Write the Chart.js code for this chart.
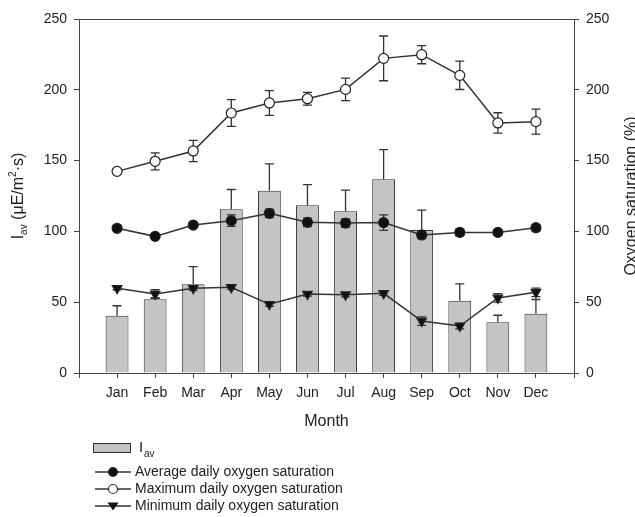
<!DOCTYPE html>
<html lang="en">
<head>
    <meta charset="UTF-8">
    <title>Light and oxygen saturation</title>
    <style>
        body { margin: 0; background: #fff; }
        canvas { display: block; }
    </style>
</head>
<body>
    <canvas id="chart" width="635" height="517"></canvas>

    <script src="https://cdn.jsdelivr.net/npm/chart.js"></script>
    <script>
        const months = ['Jan', 'Feb', 'Mar', 'Apr', 'May', 'Jun', 'Jul', 'Aug', 'Sep', 'Oct', 'Nov', 'Dec'];

        const iav = [40.5, 52, 62.6, 115.6, 128.7, 118.4, 114.2, 136.8, 101, 51, 35.8, 41.9];
        const iavErr = [7, 1, 12.5, 14, 19, 14.6, 15, 21, 14, 12, 5, 10];

        const avgSat = [102.2, 96.5, 104.5, 107.6, 112.8, 106.4, 105.9, 106.2, 97.5, 99.3, 99.3, 102.6];
        const avgErr = [2, 1.5, 1.5, 4, 3, 3, 3, 5.5, 2.5, 2.5, 1.5, 2];

        const maxSat = [142.4, 149.5, 156.8, 183.6, 190.7, 193.7, 200.3, 222.2, 224.8, 210.2, 176.6, 177.5];
        const maxErr = [2, 6, 7.5, 9.4, 8.7, 4.5, 8, 15.8, 6.4, 10, 7.2, 8.8];

        const minSat = [59.8, 55.8, 59.8, 60.5, 48.5, 55.8, 55.3, 56.3, 36.7, 33.2, 53, 57];
        const minErr = [1, 3, 1.5, 1.5, 1.5, 1.5, 1.5, 1.5, 3, 2, 3, 3];

        const yTicks = [0, 50, 100, 150, 200, 250];

        // one empty slot each side so Jan/Dec sit a full month in from the axes
        const pad = arr => [null, ...arr, null];
        const labels = ['', ...months, ''];

        const FONT = "'Liberation Sans', Arial, sans-serif";
        const INK = '#222';
        const AXIS = '#444';

        Chart.defaults.font.family = FONT;
        Chart.defaults.color = INK;

        // text with sub/superscript pieces: [text, size, shift]
        function drawPieces(ctx, pieces, cx, cy) {
            let total = 0;
            pieces.forEach(p => {
                ctx.font = p[1] + 'px ' + FONT;
                total += ctx.measureText(p[0]).width;
            });
            let x = cx - total / 2;
            pieces.forEach(p => {
                ctx.font = p[1] + 'px ' + FONT;
                ctx.fillText(p[0], x, cy + p[2]);
                x += ctx.measureText(p[0]).width;
            });
        }

        const errorBars = {
            id: 'errorBars',
            beforeDatasetDraw(chart, args) {
                const ds = chart.data.datasets[args.index];
                if (!ds.errors) return;
                const meta = args.meta;
                const yScale = chart.scales[meta.yAxisID];
                const ctx = chart.ctx;
                ctx.save();
                ctx.strokeStyle = '#333';
                ctx.lineWidth = 1.3;
                meta.data.forEach((el, i) => {
                    const v = ds.data[i];
                    const e = ds.errors[i];
                    if (v == null || e == null) return;
                    const x = el.x;
                    const top = yScale.getPixelForValue(v + e);
                    const bot = ds.type === 'bar' ? yScale.getPixelForValue(v) : yScale.getPixelForValue(v - e);
                    ctx.beginPath();
                    ctx.moveTo(x, top);
                    ctx.lineTo(x, bot);
                    ctx.moveTo(x - 4.5, top);
                    ctx.lineTo(x + 4.5, top);
                    if (ds.type !== 'bar') {
                        ctx.moveTo(x - 4.5, bot);
                        ctx.lineTo(x + 4.5, bot);
                    }
                    ctx.stroke();
                });
                ctx.restore();
            }
        };

        const decorations = {
            id: 'decorations',
            afterDraw(chart) {
                const ctx = chart.ctx;
                const area = chart.chartArea;
                const midY = (area.top + area.bottom) / 2;
                ctx.save();

                // top frame line
                ctx.strokeStyle = AXIS;
                ctx.lineWidth = 1;
                ctx.beginPath();
                ctx.moveTo(area.left, area.top + 0.5);
                ctx.lineTo(area.right, area.top + 0.5);
                ctx.stroke();

                ctx.fillStyle = INK;
                ctx.textBaseline = 'middle';

                // x title
                ctx.textAlign = 'left';
                drawPieces(ctx, [['Month', 16, 0]], (area.left + area.right) / 2, 422);

                // left title
                ctx.save();
                ctx.translate(19, midY);
                ctx.rotate(-Math.PI / 2);
                drawPieces(ctx, [['I', 16, 0], ['av', 10, 5], [' (\u03bcE/m', 16, 0], ['2', 10, -6], ['\u00b7s)', 16, 0]], 0, 0);
                ctx.restore();

                // right title, runs off the canvas edge as in the source figure
                ctx.save();
                ctx.translate(632, midY);
                ctx.rotate(-Math.PI / 2);
                drawPieces(ctx, [['Oxygen saturation (%)', 16, 0]], 0, 0);
                ctx.restore();

                // legend
                ctx.fillStyle = '#c4c4c4';
                ctx.fillRect(93, 443, 38, 10);
                ctx.strokeStyle = '#333';
                ctx.strokeRect(93.5, 443.5, 37, 9);
                ctx.fillStyle = INK;
                ctx.textAlign = 'left';
                ctx.font = '15px ' + FONT;
                ctx.fillText('I', 139, 448);
                ctx.font = '10px ' + FONT;
                ctx.fillText('av', 144, 454);

                const rows = [
                    ['Average daily oxygen saturation', 472, 'fill'],
                    ['Maximum daily oxygen saturation', 489, 'open'],
                    ['Minimum daily oxygen saturation', 506, 'tri']
                ];
                rows.forEach(r => {
                    const y = r[1];
                    ctx.strokeStyle = '#333';
                    ctx.lineWidth = 1.5;
                    ctx.beginPath();
                    ctx.moveTo(95, y);
                    ctx.lineTo(131, y);
                    ctx.stroke();
                    ctx.beginPath();
                    if (r[2] === 'tri') {
                        ctx.moveTo(107.5, y - 3.5);
                        ctx.lineTo(118.5, y - 3.5);
                        ctx.lineTo(113, y + 4.5);
                        ctx.closePath();
                        ctx.fillStyle = '#111';
                        ctx.fill();
                    } else {
                        ctx.arc(113, y, 4.5, 0, Math.PI * 2);
                        ctx.fillStyle = r[2] === 'fill' ? '#111' : '#fff';
                        ctx.fill();
                        ctx.lineWidth = 1.2;
                        ctx.stroke();
                    }
                    ctx.fillStyle = INK;
                    ctx.font = '14px ' + FONT;
                    ctx.fillText(r[0], 135, y);
                });

                ctx.restore();
            }
        };

        const lineStyle = {
            type: 'line',
            yAxisID: 'y2',
            borderColor: '#333',
            borderWidth: 1.5,
            pointRadius: 5,
            pointBorderColor: '#222',
            pointBorderWidth: 1.2,
            spanGaps: false,
            order: 1
        };

        const axisGrid = { drawOnChartArea: false, tickLength: 5, color: AXIS, offset: false };
        const axisBorder = { display: true, color: AXIS, width: 1 };

        new Chart(document.getElementById('chart'), {
            type: 'bar',
            data: {
                labels: labels,
                datasets: [
                    {
                        type: 'bar',
                        label: 'Iav',
                        data: pad(iav),
                        errors: pad(iavErr),
                        yAxisID: 'y',
                        backgroundColor: '#c4c4c4',
                        borderColor: '#333',
                        borderWidth: 1,
                        categoryPercentage: 1,
                        barPercentage: 0.6,
                        order: 4
                    },
                    Object.assign({}, lineStyle, {
                        label: 'Average daily oxygen saturation',
                        data: pad(avgSat),
                        errors: pad(avgErr),
                        pointStyle: 'circle',
                        pointBackgroundColor: '#111'
                    }),
                    Object.assign({}, lineStyle, {
                        label: 'Maximum daily oxygen saturation',
                        data: pad(maxSat),
                        errors: pad(maxErr),
                        pointStyle: 'circle',
                        pointBackgroundColor: '#fff'
                    }),
                    Object.assign({}, lineStyle, {
                        label: 'Minimum daily oxygen saturation',
                        data: pad(minSat),
                        errors: pad(minErr),
                        pointStyle: 'triangle',
                        pointRotation: 180,
                        pointRadius: 5.5,
                        pointBackgroundColor: '#111'
                    })
                ]
            },
            options: {
                responsive: false,
                devicePixelRatio: 1,
                animation: false,
                layout: { padding: { left: 0, right: 0, top: 19, bottom: 0 } },
                plugins: {
                    legend: { display: false },
                    tooltip: { enabled: false }
                },
                scales: {
                    x: {
                        type: 'category',
                        offset: false,
                        grid: axisGrid,
                        border: axisBorder,
                        ticks: { font: { size: 14 }, color: INK, padding: 7, maxRotation: 0, autoSkip: false },
                        afterFit: s => { s.height = 144; }
                    },
                    y: {
                        position: 'left',
                        min: 0,
                        max: 250,
                        afterBuildTicks: s => { s.ticks = yTicks.map(v => ({ value: v })); },
                        grid: axisGrid,
                        border: axisBorder,
                        ticks: { font: { size: 14 }, color: INK, padding: 7 },
                        afterFit: s => { s.width = 79; }
                    },
                    y2: {
                        position: 'right',
                        min: 0,
                        max: 250,
                        afterBuildTicks: s => { s.ticks = yTicks.map(v => ({ value: v })); },
                        grid: axisGrid,
                        border: axisBorder,
                        ticks: { font: { size: 14 }, color: INK, padding: 7 },
                        afterFit: s => { s.width = 61; }
                    }
                }
            },
            plugins: [errorBars, decorations]
        });
    </script>
</body>
</html>
